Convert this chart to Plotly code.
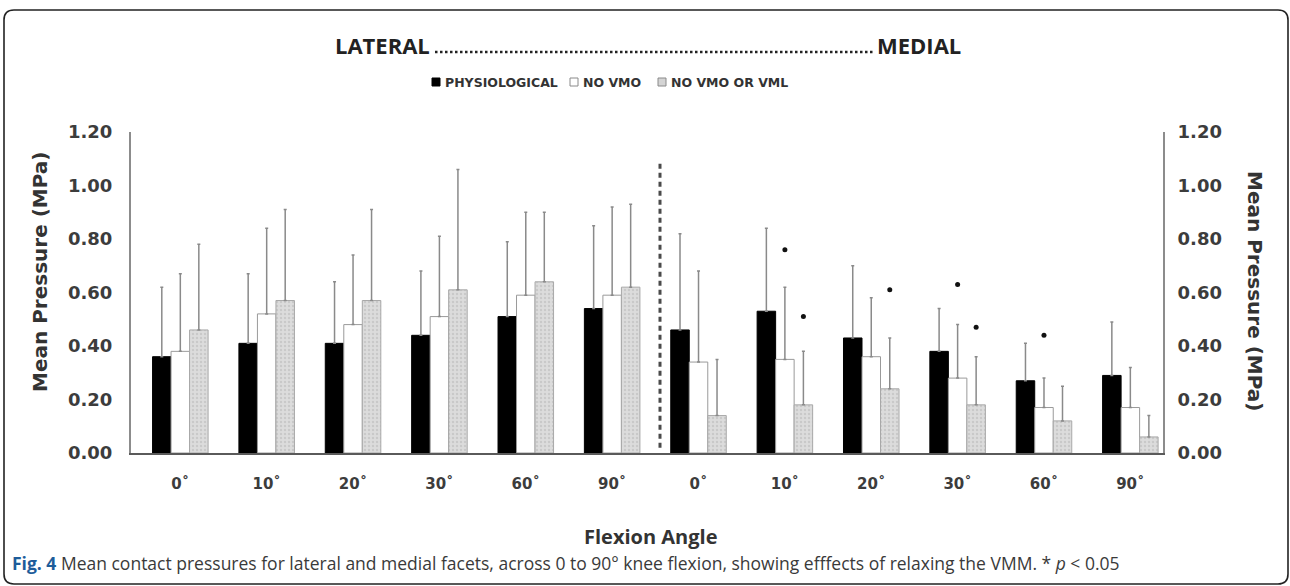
import plotly.graph_objects as go

# ---------------- data ----------------
angle_labels = ["0˚", "10˚", "20˚", "30˚", "60˚", "90˚", "0˚", "10˚", "20˚", "30˚", "60˚", "90˚"]
series_names = ["PHYSIOLOGICAL", "NO VMO", "NO VMO OR VML"]

physiological = [0.36, 0.41, 0.41, 0.44, 0.51, 0.54, 0.46, 0.53, 0.43, 0.38, 0.27, 0.29]
physiological_top = [0.62, 0.67, 0.64, 0.68, 0.79, 0.85, 0.82, 0.84, 0.70, 0.54, 0.41, 0.49]
no_vmo = [0.38, 0.52, 0.48, 0.51, 0.59, 0.59, 0.34, 0.35, 0.36, 0.28, 0.17, 0.17]
no_vmo_top = [0.67, 0.84, 0.74, 0.81, 0.90, 0.92, 0.68, 0.62, 0.58, 0.48, 0.28, 0.32]
no_vmo_vml = [0.46, 0.57, 0.57, 0.61, 0.64, 0.62, 0.14, 0.18, 0.24, 0.18, 0.12, 0.06]
no_vmo_vml_top = [0.78, 0.91, 0.91, 1.06, 0.90, 0.93, 0.35, 0.38, 0.43, 0.36, 0.25, 0.14]

# significance markers (* p < 0.05): group index, series index, height
star_group = [7, 7, 8, 9, 9, 10]
star_series = [1, 2, 2, 1, 2, 1]
star_y = [0.76, 0.51, 0.61, 0.63, 0.47, 0.44]

y_ticks = [0.0, 0.2, 0.4, 0.6, 0.8, 1.0, 1.2]

# ---------------- layout helpers ----------------
W, H = 1290, 586
L, R, T, B = 131, 1163, 132, 453
BARGAP = 0.357
bar_w = (1 - BARGAP) / 3


def px(xp):
    return (xp - L) / (R - L)


def py(yp):
    return (B - yp) / (B - T)


x = list(range(len(angle_labels)))

fig = go.Figure()

styles = [
    dict(color="#000000", line=dict(color="#000000", width=1)),
    dict(color="#ffffff", line=dict(color="#9a9a9a", width=1)),
    dict(color="#d9d9d9", line=dict(color="#a8a8a8", width=1),
         pattern=dict(shape=".", fgcolor="#b5b5b5", bgcolor="#dcdcdc", size=4, solidity=0.3)),
]
vals = [physiological, no_vmo, no_vmo_vml]
tops = [physiological_top, no_vmo_top, no_vmo_vml_top]

for name, v, t, st in zip(series_names, vals, tops, styles):
    fig.add_trace(go.Bar(
        x=x, y=v, name=name, marker=st,
        error_y=dict(type="data", symmetric=False,
                     array=[tt - vv for tt, vv in zip(t, v)],
                     arrayminus=[0] * len(v),
                     color="#8a8a8a", thickness=1.5, width=1.5),
        showlegend=False,
    ))

fig.add_trace(go.Scatter(
    x=[g + (s - 1) * bar_w for g, s in zip(star_group, star_series)],
    y=star_y, mode="markers",
    marker=dict(symbol="circle", size=5, color="#111111"),
    showlegend=False, hoverinfo="skip",
))

# invisible trace to carry the right axis
fig.add_trace(go.Scatter(x=[0], y=[0], yaxis="y2", mode="markers",
                         marker=dict(opacity=0), showlegend=False, hoverinfo="skip"))

tick_font = dict(family="DejaVu Sans", size=18, color="#3c3c3c", weight="bold")

fig.update_layout(
    width=W, height=H,
    margin=dict(l=L, r=W - R, t=T, b=H - B, pad=0),
    paper_bgcolor="white", plot_bgcolor="white",
    barmode="group", bargap=BARGAP, bargroupgap=0,
    xaxis=dict(range=[-0.571, 11.378], tickmode="array", tickvals=x, ticktext=angle_labels,
               showgrid=False, zeroline=False, showline=True, linecolor="#5a5a5a", linewidth=2,
               ticks="", tickfont=dict(family="DejaVu Sans", size=15, color="#3c3c3c", weight="bold"),
               ticklabelstandoff=16),
    yaxis=dict(range=[0, 1.2], tickvals=y_ticks, tickformat=".2f", showgrid=False,
               zeroline=False, showline=True, linecolor="#8c8c8c", linewidth=2, ticks="",
               tickfont=tick_font, ticklabelstandoff=13),
    yaxis2=dict(range=[0, 1.2], tickvals=y_ticks, tickformat=".2f", showgrid=False,
                zeroline=False, showline=True, linecolor="#8c8c8c", linewidth=2, ticks="",
                overlaying="y", side="right", tickfont=tick_font, ticklabelstandoff=9),
    showlegend=False,
)

# dashed divider between lateral and medial facets
fig.add_shape(type="line", xref="x", yref="y", x0=5.554, x1=5.554, y0=0.02, y1=1.085,
              line=dict(color="#4a4a4a", width=3, dash="5px,4px"))

# rounded border around the figure
x0, x1, y0, y1, r = 4, 1288, 10, 584, 10
rx = r / (R - L)
ry = r / (B - T)
X0, X1, Y0, Y1 = px(x0), px(x1), py(y0), py(y1)
path = (f"M {X0+rx},{Y0} L {X1-rx},{Y0} Q {X1},{Y0} {X1},{Y0-ry} "
        f"L {X1},{Y1+ry} Q {X1},{Y1} {X1-rx},{Y1} L {X0+rx},{Y1} Q {X0},{Y1} {X0},{Y1+ry} "
        f"L {X0},{Y0-ry} Q {X0},{Y0} {X0+rx},{Y0} Z")
fig.add_shape(type="path", xref="paper", yref="paper", path=path,
              line=dict(color="#222222", width=1.6))

# manual legend
leg_x = [436, 574, 662]
leg_fill = ["#000000", "#ffffff", "#d4d4d4"]
leg_line = ["#000000", "#8a8a8a", "#8a8a8a"]
for lx, fc, lc, name in zip(leg_x, leg_fill, leg_line, series_names):
    fig.add_shape(type="rect", xref="paper", yref="paper",
                  x0=px(lx - 4), x1=px(lx + 4), y0=py(86), y1=py(78),
                  fillcolor=fc, line=dict(color=lc, width=1))
    fig.add_annotation(xref="paper", yref="paper", x=px(lx + 7), y=py(82), text=name,
                       showarrow=False, xanchor="left", yanchor="middle",
                       font=dict(family="DejaVu Sans", size=12.5, color="#333333", weight="bold"))

# header: LATERAL ........ MEDIAL
head_font = dict(family="Open Sans", size=22, color="#222222", weight="bold")
fig.add_annotation(xref="paper", yref="paper", x=px(333), y=py(45), text="LATERAL",
                   showarrow=False, xanchor="left", yanchor="middle", font=head_font)
fig.add_annotation(xref="paper", yref="paper", x=px(963), y=py(45), text="MEDIAL",
                   showarrow=False, xanchor="right", yanchor="middle", font=head_font)
fig.add_shape(type="line", xref="paper", yref="paper", x0=px(435), x1=px(875), y0=py(52), y1=py(52),
              line=dict(color="#222222", width=2.5, dash="2.5px,2.5px"))

# axis titles
title_font = dict(family="DejaVu Sans", size=20, color="#333333", weight="bold")
fig.add_annotation(xref="paper", yref="paper", x=px(40), y=py(272), text="Mean Pressure (MPa)",
                   textangle=-90, showarrow=False, xanchor="center", yanchor="middle", font=title_font)
fig.add_annotation(xref="paper", yref="paper", x=px(1255), y=py(291), text="Mean Pressure (MPa)",
                   textangle=90, showarrow=False, xanchor="center", yanchor="middle", font=title_font)
fig.add_annotation(xref="paper", yref="paper", x=px(650), y=py(536), text="Flexion Angle",
                   showarrow=False, xanchor="center", yanchor="middle",
                   font=dict(family="Open Sans", size=20, color="#333333", weight="bold"))

# caption
fig.add_annotation(xref="paper", yref="paper", x=px(10), y=py(563),
                   text=("<span style='color:#1d5c9a'><b>Fig. 4</b></span> Mean contact pressures for lateral "
                         "and medial facets, across 0 to 90° knee flexion, showing efffects of relaxing the VMM. "
                         "* <i>p</i> &lt; 0.05"),
                   showarrow=False, xanchor="left", yanchor="middle",
                   font=dict(family="Open Sans", size=17.5, color="#3a3a3a"))

fig.write_html("out.html", post_script="document.body.style.margin='0';",
               config={"displayModeBar": False})
